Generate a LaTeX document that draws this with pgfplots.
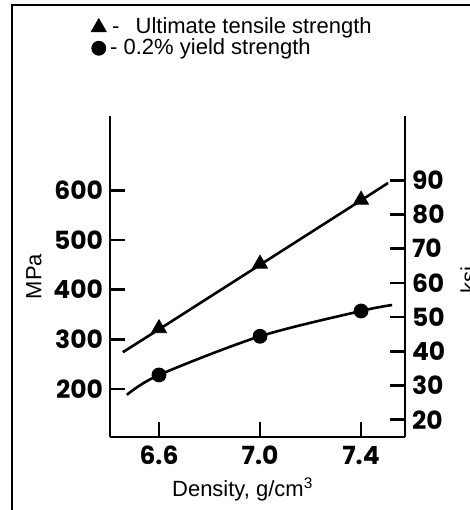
\documentclass[border=0pt]{standalone}
\usepackage{fontspec}
\setmainfont{Liberation Sans}
\newfontfamily\tickfont{Poppins}
\usepackage{pgfplots}
\pgfplotsset{compat=1.18}

% Ultimate tensile strength, MPa
\def\utsline{(6.457,274) (6.6,320) (7.0,450) (7.4,580) (7.507,615)}
% 0.2% yield strength, MPa
\def\ysline{(6.473,188) (6.6,228) (7.0,306) (7.4,357) (7.523,369)}

\begin{document}
\begin{tikzpicture}
\useasboundingbox (-55pt,-36.5pt) rectangle (180pt,218.5pt);
\draw[line width=1.2pt] (-49pt,-40pt) -- (-49pt,216pt) -- (185pt,216pt);

\pgfplotsset{
  every axis/.append style={
    scale only axis, width=147.5pt, height=160.5pt,
    at={(0pt,0pt)}, anchor=south west,
    xmin=6.406, xmax=7.574,
    axis line style={line width=1.3pt},
    tick style={line width=1.3pt, black},
    major tick length=7.5pt,
    tick align=inside,
    /pgf/number format/assume math mode=true,
    ticklabel style={font=\tickfont\bfseries\fontsize{12.5}{14}\selectfont},
    label style={font=\fontsize{11}{13}\selectfont},
  },
}

\begin{axis}[
  axis y line*=left, axis x line*=bottom,
  ymin=103, ymax=750,
  ytick={200,300,400,500,600},
  xtick={6.6,7.0,7.4}, xticklabels={6.6,7.0,7.4},
  xticklabel style={yshift=-1pt},
  xlabel={Density, g/cm\textsuperscript{3}},
  xlabel style={at={(axis description cs:0.45,-0.162)}, anchor=center},
  ylabel={MPa},
  ylabel style={at={(axis description cs:-0.258,0.5)}, anchor=center},
  legend style={at={(axis description cs:-0.085,1.332)}, anchor=north west,
    draw=none, fill=none, font=\fontsize{11}{13}\selectfont,
    row sep=-3pt},
  legend cell align=left,
]
\addplot[black, line width=1.3pt, mark=none, forget plot] coordinates {\utsline};
\addplot[black, line width=1.3pt, mark=none, smooth, forget plot] coordinates {\ysline};
\addplot[only marks, mark=triangle*, mark size=4.3pt, black]
  coordinates {(6.6,322) (7.0,452) (7.4,581)};
\addlegendentry{\hspace{1pt}-\hspace{5pt} Ultimate tensile strength}
\addplot[only marks, mark=*, mark size=3.5pt, black]
  coordinates {(6.6,228) (7.0,306) (7.4,357)};
\addlegendentry{- 0.2\% yield strength}
\end{axis}

\begin{axis}[
  axis y line*=right, axis x line=none,
  ymin=14.94, ymax=108.78,
  ytick={20,30,40,50,60,70,80,90},
  ylabel={ksi},
  ylabel style={at={(axis description cs:1.215,0.489)}, anchor=center},
]
\end{axis}
\end{tikzpicture}
\end{document}
